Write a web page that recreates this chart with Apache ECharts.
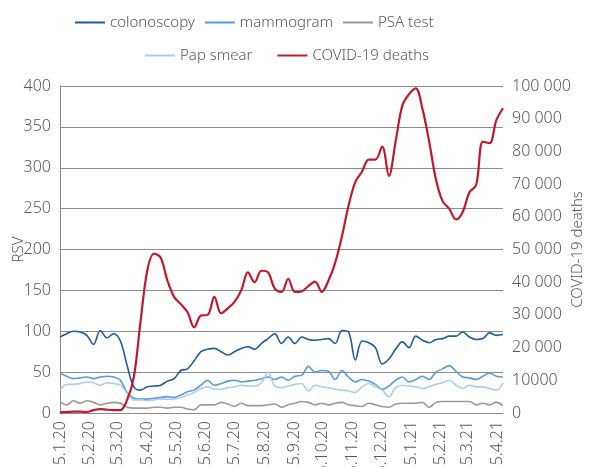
<!DOCTYPE html>
<html>
<head>
<meta charset="utf-8">
<script src="https://cdn.jsdelivr.net/npm/echarts@6/dist/echarts.min.js"></script>
<style>
html,body{margin:0;padding:0;background:#fff;}
#chart{width:589px;height:467px;}
</style>
</head>
<body>
<div id="chart"></div>
<script>
// Weekly data (week starting dates), first week 5.1.2020
var startDate = '2020-01-05';
var weekCount = 67;
// Monthly tick dates shown on the x axis
var tickDates = ['2020-01-05','2020-02-05','2020-03-05','2020-04-05','2020-05-05','2020-06-05',
  '2020-07-05','2020-08-05','2020-09-05','2020-10-05','2020-11-05','2020-12-05',
  '2021-01-05','2021-02-05','2021-03-05','2021-04-05'];
var endDate = '2021-04-11';

var colonoscopy = [93,97,100,99,95,84,101,92,97,88,58,32,28,32,33,34,39,42,52,54,64,75,78,79,75,71,75,79,81,78,85,91,97,85,93,85,93,90,89,90,91,85,101,99,65,88,86,80,60,66,78,87,80,94,89,86,90,91,94,94,99,93,90,91,98,95,96];
var mammogram = [49,45,42,43,44,42,44,45,44,40,25,18,17,17,18,19,20,19,22,26,28,34,40,34,36,39,40,38,39,40,42,44,41,44,40,45,46,57,50,52,51,41,52,44,38,41,39,35,29,33,40,44,38,41,45,41,50,54,58,51,44,43,41,45,49,45,44];
var psaTest = [14,10,15,12,15,13,10,12,13,12,7,6,6,6,7,7,6,7,7,5,4,10,10,10,13,11,8,12,9,9,9,10,11,7,10,12,14,13,10,12,10,12,13,10,9,8,12,10,8,7,11,12,12,12,13,7,13,14,14,14,14,14,10,12,10,13,9];
var papSmear = [28,35,35,36,38,37,34,37,36,34,24,16,16,15,16,17,17,17,19,22,25,30,32,29,29,31,32,34,33,33,37,50,33,31,33,35,36,27,34,32,31,29,28,27,25,32,36,32,28,20,31,34,33,32,30,32,35,37,40,34,30,34,32,32,30,28,37];
var covidDeaths = [200,300,400,400,300,900,1200,1000,900,900,4000,11000,28000,43500,48700,47500,40500,35500,33300,30800,26200,29800,30000,35500,30500,32000,34000,37500,43000,40000,43500,43000,38000,37000,41000,37000,37200,38800,40200,37000,40500,46000,54000,63500,70700,73800,77500,77500,81500,72500,83000,94000,97500,99300,93000,83000,71500,64800,62400,59200,61500,67500,69700,83000,82500,89500,93200];

var DAY = 86400000;
function ts(s){ var p = s.split('-'); return Date.UTC(+p[0], +p[1]-1, +p[2]); }
var t0 = ts(startDate);
function dayOf(s){ return Math.round((ts(s) - t0) / DAY); }
var weekDays = [];
for (var i = 0; i < weekCount; i++) weekDays.push(i * 7);
var tickDays = tickDates.map(dayOf);
var tickLabelMap = {};
tickDates.forEach(function(s){
  var p = s.split('-');
  tickLabelMap[dayOf(s)] = (+p[2]) + '.' + (+p[1]) + '.' + p[0].slice(2);
});
function pairs(vals){ return vals.map(function(v, i){ return [weekDays[i], v]; }); }

var textColor = '#595959';
var fontFamily = '"Noto Sans", "Open Sans", sans-serif';
var fw = 300;
var chart = echarts.init(document.getElementById('chart'), null, {renderer:'canvas'});
chart.setOption({
  animation: false,
  textStyle: {fontFamily: fontFamily, fontWeight: fw},
  legend: [{
    top: 10, left: 70, itemWidth: 30, itemHeight: 2, itemGap: 10, icon: 'rect',
    textStyle: {color: textColor, fontSize: 15, fontFamily: fontFamily, fontWeight: fw},
    data: ['colonoscopy','mammogram','PSA test']
  },{
    top: 43, left: 140, itemWidth: 30, itemHeight: 2, itemGap: 25, icon: 'rect',
    textStyle: {color: textColor, fontSize: 15, fontFamily: fontFamily, fontWeight: fw},
    data: ['Pap smear','COVID-19 deaths']
  }],
  grid: {left: 60, right: 86, top: 86, bottom: 54, containLabel: false, outerBoundsMode: 'none'},
  xAxis: {
    type: 'value', min: 0, max: dayOf(endDate),
    axisLine: {show: true, lineStyle: {color: '#8c8c8c', width: 1}},
    axisTick: {show: false},
    splitLine: {show: false},
    axisLabel: {
      customValues: tickDays,
      rotate: 90, margin: 8, color: textColor, fontSize: 16, fontFamily: fontFamily, fontWeight: fw,
      formatter: function(v){ return tickLabelMap[v] || ''; }
    }
  },
  yAxis: [{
    type: 'value', min: 0, max: 400, interval: 50,
    name: 'RSV', nameLocation: 'middle', nameRotate: 90, nameGap: 34, nameMoveOverlap: false,
    nameTextStyle: {color: textColor, fontSize: 15, fontFamily: fontFamily, fontWeight: fw},
    axisLine: {show: true, lineStyle: {color: '#8c8c8c', width: 1}},
    axisTick: {show: false},
    axisLabel: {color: textColor, fontSize: 16, margin: 9, fontFamily: fontFamily, fontWeight: fw},
    splitLine: {show: true, lineStyle: {color: '#8c8c8c', width: 1}}
  },{
    type: 'value', min: 0, max: 100000, interval: 10000, position: 'right',
    name: 'COVID-19 deaths', nameLocation: 'middle', nameRotate: 90, nameGap: 67, nameMoveOverlap: false,
    nameTextStyle: {color: textColor, fontSize: 15, fontFamily: fontFamily, fontWeight: fw},
    axisLine: {show: false},
    axisTick: {show: false},
    splitLine: {show: false},
    axisLabel: {color: textColor, fontSize: 16, margin: 9, fontFamily: fontFamily, fontWeight: fw,
      formatter: function(v){
        return v < 20000 ? String(v) : String(v).replace(/\B(?=(\d{3})+(?!\d))/g, ' ');
      }}
  }],
  series: [
    {name: 'colonoscopy', type: 'line', data: pairs(colonoscopy), yAxisIndex: 0, smooth: 0.35,
      showSymbol: false, symbol: 'none', lineStyle: {color: '#1f5c9c', width: 1.6}, itemStyle: {color: '#1f5c9c'}},
    {name: 'mammogram', type: 'line', data: pairs(mammogram), yAxisIndex: 0, smooth: 0.35,
      showSymbol: false, symbol: 'none', lineStyle: {color: '#5b9bd5', width: 1.6}, itemStyle: {color: '#5b9bd5'}},
    {name: 'PSA test', type: 'line', data: pairs(psaTest), yAxisIndex: 0, smooth: 0.35,
      showSymbol: false, symbol: 'none', lineStyle: {color: '#9a9a9a', width: 1.6}, itemStyle: {color: '#9a9a9a'}},
    {name: 'Pap smear', type: 'line', data: pairs(papSmear), yAxisIndex: 0, smooth: 0.35,
      showSymbol: false, symbol: 'none', lineStyle: {color: '#b0cdeb', width: 1.6}, itemStyle: {color: '#b0cdeb'}},
    {name: 'COVID-19 deaths', type: 'line', data: pairs(covidDeaths), yAxisIndex: 1, smooth: 0.35,
      showSymbol: false, symbol: 'none', lineStyle: {color: '#c3182c', width: 2.2}, itemStyle: {color: '#c3182c'}}
  ]
});
</script>
</body>
</html>
